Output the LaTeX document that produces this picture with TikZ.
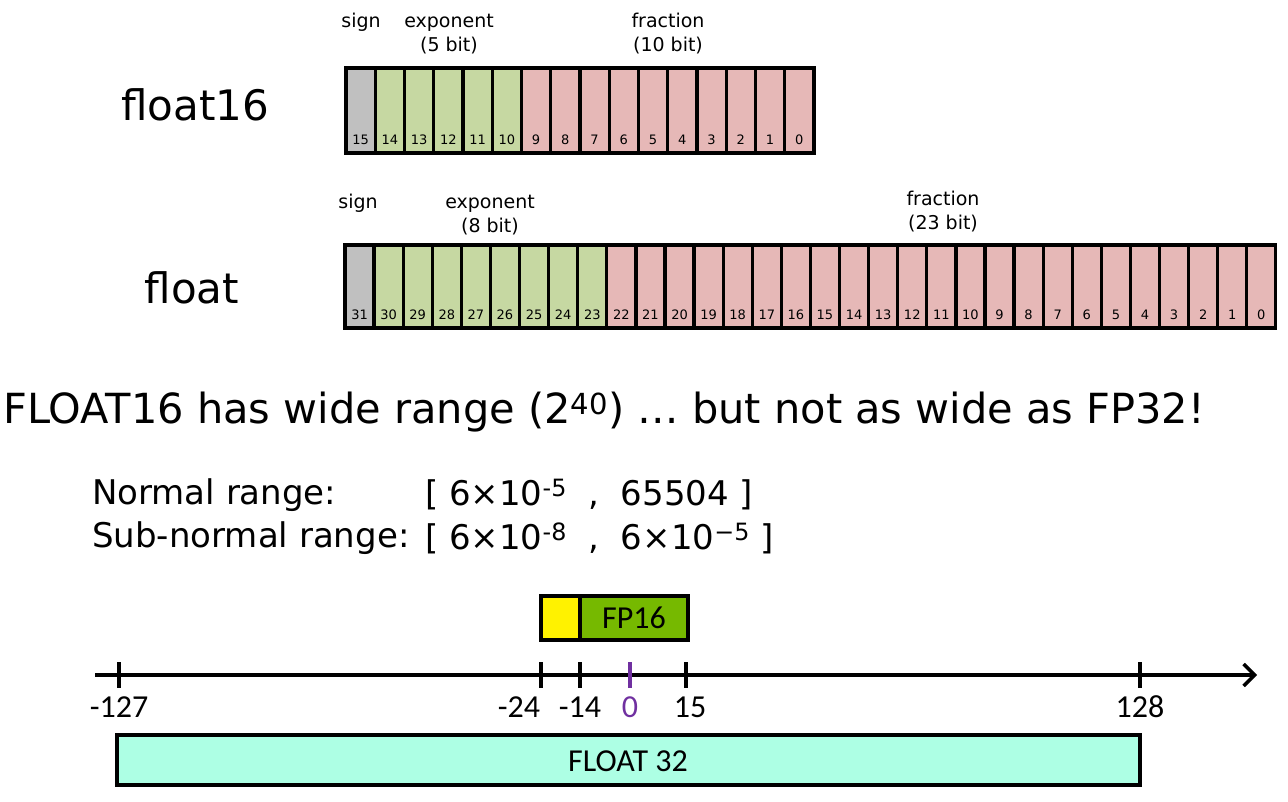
\documentclass[tikz,border=0pt]{standalone}
\usepackage{fontspec}
\usetikzlibrary{arrows.meta}
\setmainfont{DejaVu Sans}
\newfontfamily\carlfont{Carlito}
\definecolor{sgn}{HTML}{C0C0C0}
\definecolor{expc}{HTML}{C6D8A2}
\definecolor{frac}{HTML}{E6B8B7}
\definecolor{fpg}{HTML}{76B900}
\definecolor{fcy}{HTML}{ADFFE4}
\definecolor{zpur}{HTML}{7030A0}
\begin{document}
\begin{tikzpicture}[x=1pt,y=-1pt,
  cell/.style={draw,line width=3.2pt,inner sep=0},
  bitnum/.style={font=\fontsize{13}{13}\selectfont},
  lbl/.style={font=\fontsize{19}{24}\selectfont,align=center},
  tick/.style={line width=4pt},
  tl/.style={font=\carlfont\fontsize{32}{32}\selectfont}]
\useasboundingbox (0,0) rectangle (1288,801);
% float16
\node[font=\fontsize{42}{42}\selectfont] (f16) at (195,105) {float16};
\foreach \i in {0,...,15}{
  \pgfmathsetmacro\xa{346+\i*29.25}
  \pgfmathsetmacro\xb{346+(\i+1)*29.25}
  \pgfmathtruncatemacro\n{15-\i}
  \ifnum\i=0 \def\fc{sgn}\else\ifnum\i<6 \def\fc{expc}\else\def\fc{frac}\fi\fi
  \draw[cell,fill=\fc] (\xa,68) rectangle (\xb,153);
  \node[bitnum] (a\n) at ({(\xa+\xb)/2},140) {\n};
}
\node[lbl] (s1) at (361,22) {sign};
\node[lbl] (e1) at (449,34) {exponent\\(5 bit)};
\node[lbl] (r1) at (668,34) {fraction\\(10 bit)};
% float
\node[font=\fontsize{42}{42}\selectfont] (f32) at (192,288) {float};
\foreach \i in {0,...,31}{
  \pgfmathsetmacro\xa{345+\i*29.09}
  \pgfmathsetmacro\xb{345+(\i+1)*29.09}
  \pgfmathtruncatemacro\n{31-\i}
  \ifnum\i=0 \def\fc{sgn}\else\ifnum\i<9 \def\fc{expc}\else\def\fc{frac}\fi\fi
  \draw[cell,fill=\fc] (\xa,245) rectangle (\xb,328);
  \node[bitnum] (b\n) at ({(\xa+\xb)/2},315) {\n};
}
\node[lbl] (s2) at (358,203) {sign};
\node[lbl] (e2) at (490,215) {exponent\\(8 bit)};
\node[lbl] (r2) at (943,212) {fraction\\(23 bit)};
% title
\node[anchor=west,font=\fontsize{41.5}{41.5}\selectfont,inner sep=0] (title) at (3,412) {FLOAT16 has wide range (2\textsuperscript{40}) … but not as wide as FP32!};
\node[anchor=west,font=\fontsize{34}{34}\selectfont,inner sep=0] (nr) at (92,495) {Normal range:};
\node[anchor=west,font=\fontsize{34}{34}\selectfont,inner sep=0] (nrv) at (425,495) {[ 6×10\textsuperscript{-5} \ , \ 65504 ]};
\node[anchor=west,font=\fontsize{34}{34}\selectfont,inner sep=0] (sr) at (92,538) {Sub-normal range:};
\node[anchor=west,font=\fontsize{34}{34}\selectfont,inner sep=0] (srv) at (425,538) {[ 6×10\textsuperscript{-8} \ , \ 6×10\textsuperscript{−5} ]};
% timeline
\coordinate (ax0) at (95,675);
\coordinate (ax1) at (1257,675);
\draw[line width=3.5pt,-{Straight Barb[length=11pt,width=22pt,line width=3.5pt]}] (ax0) -- (ax1);
\foreach \x in {119,541,580,686,1140}{
  \draw[tick] (\x,662) -- (\x,688);
}
\draw[tick,zpur] (630,662) -- (630,688);
\node[tl] (l1) at (119,707) {-127};
\node[tl] (l2) at (519,707) {-24};
\node[tl] (l3) at (580,707) {-14};
\node[tl,text=zpur] (l4) at (630,707) {0};
\node[tl] (l5) at (690,707) {15};
\node[tl] (l6) at (1140,707) {128};
\draw[cell,fill=yellow] (541,596) rectangle (580,640);
\draw[cell,fill=fpg] (580,596) rectangle (688,640);
\node[tl] (fp16) at (634,618) {FP16};
\draw[cell,fill=fcy] (117,735) rectangle (1140,785);
\node[tl] (f32b) at (628,761) {FLOAT 32};
\end{tikzpicture}
\end{document}
